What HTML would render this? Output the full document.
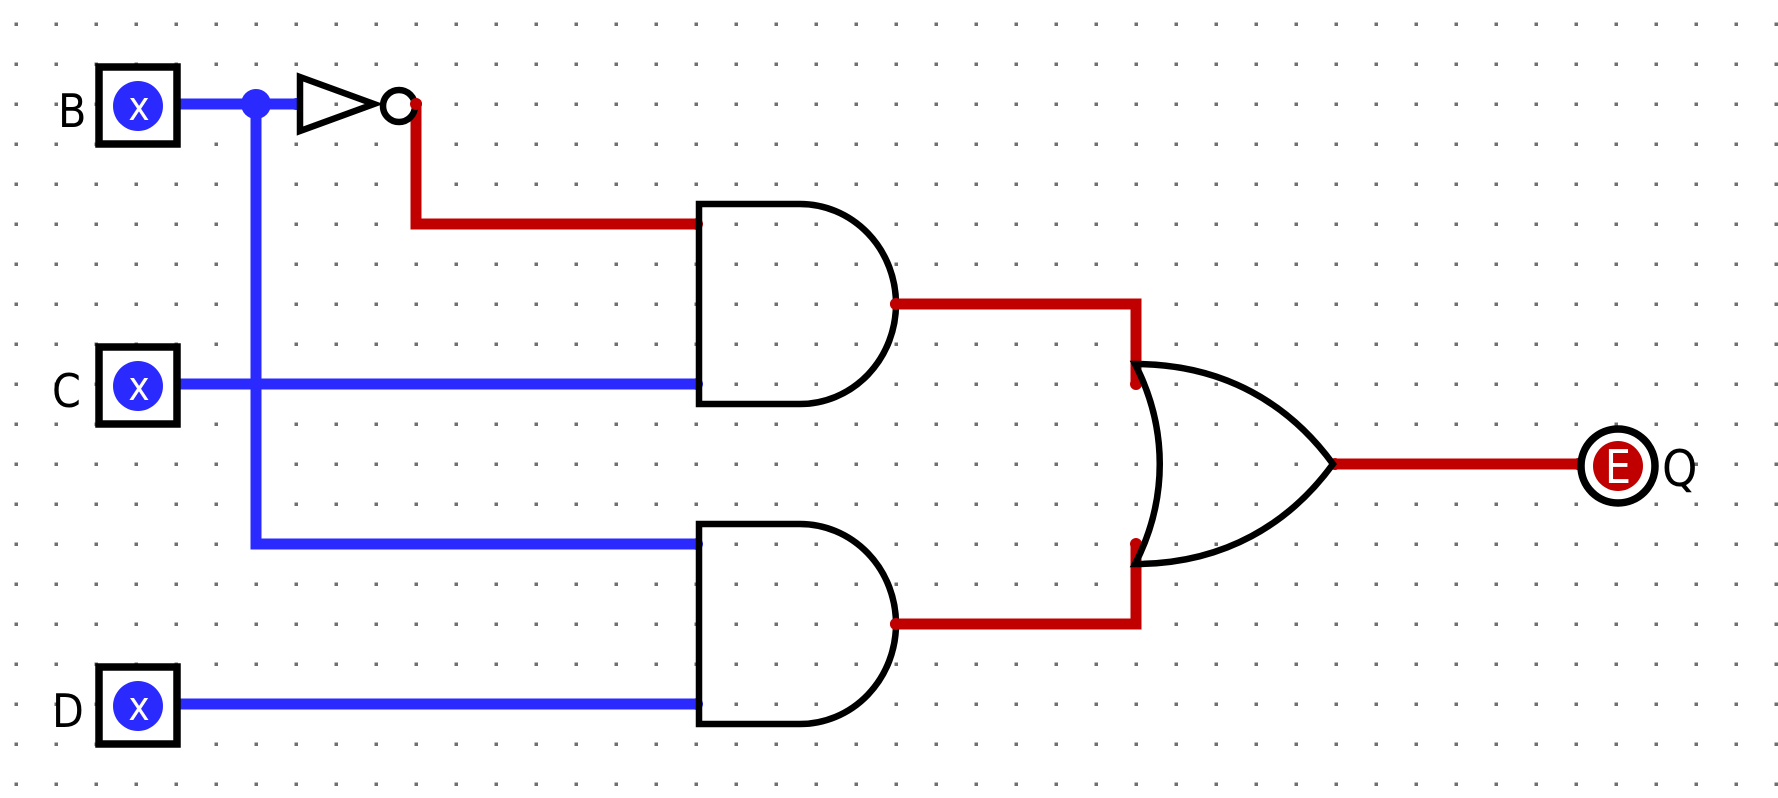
<!DOCTYPE html>
<html><head><meta charset="utf-8"><style>
html,body{margin:0;padding:0;background:#fff;}
svg{display:block;}
text{font-family:"DejaVu Sans Condensed","DejaVu Sans","Liberation Sans",sans-serif;}
</style></head><body>
<svg width="1778" height="798" viewBox="0 0 1778 798" xmlns="http://www.w3.org/2000/svg">
<defs>
<pattern id="g" x="14.5" y="22.5" width="40" height="40" patternUnits="userSpaceOnUse">
<rect x="0" y="0" width="3.5" height="3.5" fill="#707070"/>
</pattern>
</defs>
<rect width="1778" height="798" fill="#fff"/>
<rect width="1778" height="798" fill="url(#g)"/>

<g stroke="#2a2aff" stroke-width="11" fill="none">
<line x1="172" y1="104" x2="298" y2="104"/>
<polyline points="256,104 256,544 698,544"/>
<line x1="172" y1="384" x2="698" y2="384"/>
<line x1="172" y1="704" x2="698" y2="704"/>
</g>
<g fill="#2a2aff">
<circle cx="256" cy="104" r="15"/>
<circle cx="174" cy="104" r="6"/><circle cx="296" cy="104" r="6"/>
<circle cx="174" cy="384" r="6"/><circle cx="174" cy="704" r="6"/>
<circle cx="697" cy="384" r="6"/><circle cx="697" cy="544" r="6"/><circle cx="697" cy="704" r="6"/>
</g>

<g stroke="#c00000" stroke-width="11" fill="none">
<polyline points="416,104 416,224 698,224"/>
<polyline points="896,304 1136,304 1136,384"/>
<polyline points="896,624 1136,624 1136,544"/>
<line x1="1333" y1="464" x2="1578" y2="464"/>
</g>
<g fill="#c00000">
<circle cx="416" cy="104" r="6"/><circle cx="697" cy="224" r="6"/>
<circle cx="896" cy="304" r="6"/><circle cx="896" cy="624" r="6"/>
<circle cx="1136" cy="384" r="6"/><circle cx="1136" cy="544" r="6"/>
<circle cx="1335" cy="464" r="6"/><circle cx="1578" cy="464" r="6"/>
</g>

<g>
<rect x="99" y="67" width="78" height="77" fill="#fff" stroke="#000" stroke-width="7.5"/>
<circle cx="138" cy="106" r="25" fill="#2a2aff"/>
<text x="139" y="120" font-size="40" fill="#fff" text-anchor="middle">x</text>
<text x="58" y="127" font-size="46" fill="#000">B</text>

<rect x="99" y="347" width="78" height="77" fill="#fff" stroke="#000" stroke-width="7.5"/>
<circle cx="138" cy="386" r="25" fill="#2a2aff"/>
<text x="139" y="400" font-size="40" fill="#fff" text-anchor="middle">x</text>
<text x="52" y="407" font-size="46" fill="#000">C</text>

<rect x="99" y="667" width="78" height="77" fill="#fff" stroke="#000" stroke-width="7.5"/>
<circle cx="138" cy="706" r="25" fill="#2a2aff"/>
<text x="139" y="720" font-size="40" fill="#fff" text-anchor="middle">x</text>
<text x="52" y="727" font-size="46" fill="#000">D</text>
</g>

<polygon points="300,77 374,104 300,131" fill="none" stroke="#000" stroke-width="6.5"/>
<circle cx="399" cy="106" r="16" fill="#fff" stroke="#000" stroke-width="6.5"/>
<circle cx="416" cy="104" r="6" fill="#c00000"/>

<g fill="none" stroke="#000" stroke-width="6.5">
<path d="M699,204 L800,204 A96,100 0 0 1 800,404 L699,404 Z"/>
<path d="M699,524 L800,524 A96,100 0 0 1 800,724 L699,724 Z"/>
</g>
<circle cx="896" cy="304" r="6" fill="#c00000"/>
<circle cx="896" cy="624" r="6" fill="#c00000"/>

<path d="M1135,364 C1225,364 1290,405 1333,464 C1290,523 1225,564 1135,564 C1168,500 1168,428 1135,364 Z" fill="none" stroke="#000" stroke-width="6.5"/>

<circle cx="1618" cy="466" r="37" fill="#fff" stroke="#000" stroke-width="7.5"/>
<circle cx="1618" cy="466" r="25" fill="#c00000"/>
<text x="1618" y="483" font-size="46" fill="#fff" text-anchor="middle">E</text>
<text x="1662" y="486" font-size="50" fill="#000">Q</text>
</svg>
</body></html>
